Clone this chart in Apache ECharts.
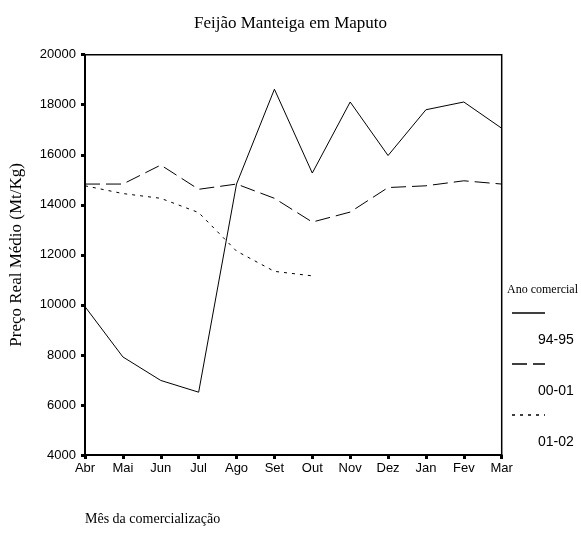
<!DOCTYPE html>
<html>
<head>
<meta charset="utf-8">
<script src="https://cdn.jsdelivr.net/npm/echarts@6/dist/echarts.min.js"></script>
<style>html,body{margin:0;padding:0;background:#fff;}#c{width:581px;height:533px;}</style>
</head>
<body>
<div id="c"></div>
<script>
var months = ['Abr','Mai','Jun','Jul','Ago','Set','Out','Nov','Dez','Jan','Fev','Mar'];
var seriesNames = ['94-95','00-01','01-02'];
var s9495 = [9930, 7920, 6980, 6510, 14830, 18620, 15270, 18110, 15970, 17800, 18110, 17060];
var s0001 = [14830, 14830, 15590, 14620, 14830, 14260, 13310, 13710, 14690, 14760, 14960, 14830];
var s0102 = [14760, 14450, 14260, 13690, 12150, 11340, 11160, null, null, null, null, null];
var yTicks = [4000, 6000, 8000, 10000, 12000, 14000, 16000, 18000, 20000];

var dashes = ['solid', [15, 6], [3, 5]];
var serifFont = '"Liberation Serif", "DejaVu Serif", serif';
var sansFont = '"Liberation Sans", Arial, sans-serif';

var chart = echarts.init(document.getElementById('c'), null, {renderer: 'canvas'});

var legendGraphics = [{
  type: 'text', left: 507, top: 284,
  style: {text: 'Ano comercial', font: '12px ' + serifFont, fill: '#000'}
}];
seriesNames.forEach(function (n, i) {
  var ly = 313 + i * 51;
  legendGraphics.push({
    type: 'line',
    shape: {x1: 512, y1: ly, x2: 545, y2: ly},
    style: {stroke: '#000', lineWidth: 1.5, lineDash: dashes[i] === 'solid' ? null : dashes[i]}
  });
  legendGraphics.push({
    type: 'text', left: 538, top: ly + 20,
    style: {text: n, font: '14px ' + sansFont, fill: '#000'}
  });
});

var dataSets = [s9495, s0001, s0102];

chart.setOption({
  backgroundColor: '#fff',
  animation: false,
  title: [{
    text: 'Feijão Manteiga em Maputo',
    left: 'center', top: 10,
    textStyle: {fontFamily: serifFont, fontSize: 17, fontWeight: 'normal', color: '#000'}
  }, {
    text: 'Mês da comercialização',
    left: 80, top: 507,
    textStyle: {fontFamily: serifFont, fontSize: 14, fontWeight: 'normal', color: '#000'}
  }],
  grid: {
    left: 82.7, top: 54.7, right: 79.3, bottom: 78,
    show: true, borderColor: '#000', borderWidth: 1.5, backgroundColor: 'transparent'
  },
  xAxis: {
    type: 'category',
    data: months,
    boundaryGap: false,
    axisLine: {lineStyle: {color: '#000', width: 2}},
    axisTick: {show: true, length: 4, lineStyle: {color: '#000', width: 3}},
    axisLabel: {color: '#000', fontFamily: sansFont, fontSize: 13, margin: 7, interval: 0},
    splitLine: {show: false}
  },
  yAxis: {
    type: 'value',
    min: yTicks[0], max: yTicks[yTicks.length - 1], interval: 2000,
    name: 'Preço Real Médio (Mt/Kg)',
    nameLocation: 'middle',
    nameRotate: 90,
    nameGap: 60,
    nameTextStyle: {fontFamily: serifFont, fontSize: 17, color: '#000'},
    axisLine: {show: true, lineStyle: {color: '#000', width: 2}},
    axisTick: {show: true, length: 4, lineStyle: {color: '#000', width: 3}},
    axisLabel: {color: '#000', fontFamily: sansFont, fontSize: 13, margin: 9,
      formatter: function (v) { return String(v); }},
    splitLine: {show: false}
  },
  series: seriesNames.map(function (n, i) {
    return {
      name: n,
      type: 'line',
      data: dataSets[i],
      symbol: 'none',
      connectNulls: false,
      lineStyle: {color: '#000', width: 1, type: dashes[i]}
    };
  }),
  graphic: legendGraphics
});
</script>
</body>
</html>
